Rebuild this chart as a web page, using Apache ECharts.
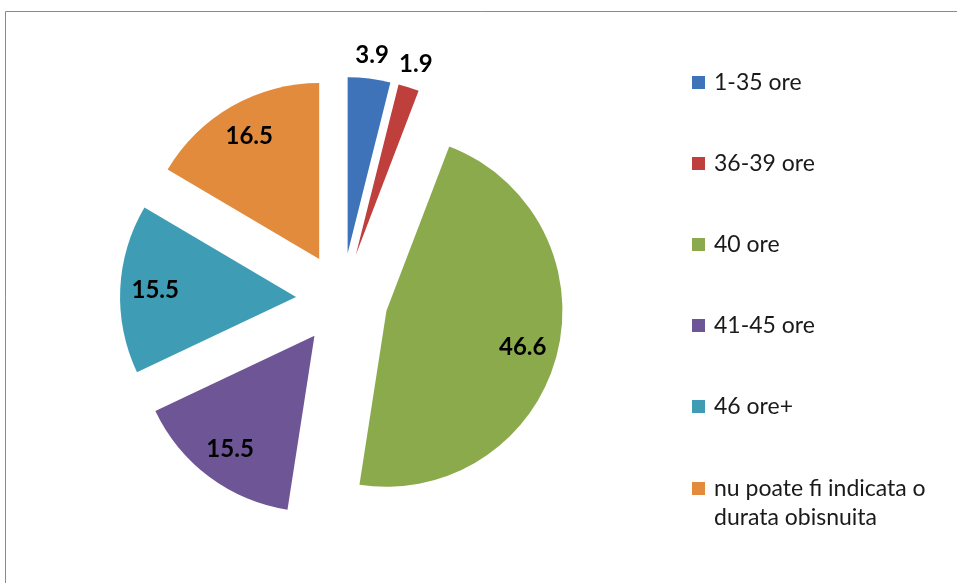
<!DOCTYPE html>
<html>
<head>
<meta charset="utf-8">
<script src="https://cdn.jsdelivr.net/npm/echarts@6/dist/echarts.min.js"></script>
<style>
  html, body { margin: 0; padding: 0; background: #fff; }
  #chart { width: 957px; height: 583px; }
</style>
</head>
<body>
<div id="chart"></div>
<script>
// Usual weekly working time (share of employed, %)
const categories = ['1-35 ore', '36-39 ore', '40 ore', '41-45 ore', '46 ore+', 'nu poate fi indicata o durata obisnuita'];
const values = [3.9, 1.9, 46.6, 15.5, 15.5, 16.5];
const colors = ['#3E73B9', '#BE3F3C', '#8BAA4C', '#6E5596', '#3E9DB5', '#E38B3D'];
// slices whose value is printed just outside the pie rim
const outerLabelIdx = [0, 1];

const CENTER = [342, 299];
const R = 176;
const EXPLODE = 46;
const labelFont = { fontFamily: 'Lato', fontWeight: 'bold', fontSize: 24, color: '#000' };
const LEGEND_FONT = 23;
const LEGEND_LINE = 29;
const LEGEND_WRAP = 236;

function sliceData(labelFor) {
  return categories.map((name, i) => ({
    name: name,
    value: values[i],
    selected: true,
    itemStyle: { color: colors[i] },
    label: { show: labelFor(i) }
  }));
}

function labelData(labelFor) {
  return sliceData(labelFor).map(d => Object.assign(d, { itemStyle: { color: 'transparent' } }));
}

// greedy word wrap using the legend font
function wrapWords(text, maxWidth) {
  const ctx = document.createElement('canvas').getContext('2d');
  ctx.font = LEGEND_FONT + 'px Lato';
  const lines = [];
  let cur = '';
  text.split(' ').forEach(w => {
    const trial = cur ? cur + ' ' + w : w;
    if (cur && ctx.measureText(trial).width > maxWidth) {
      lines.push(cur);
      cur = w;
    } else {
      cur = trial;
    }
  });
  if (cur) lines.push(cur);
  return lines;
}

const baseSeries = {
  type: 'pie',
  center: CENTER,
  startAngle: 90,
  clockwise: true,
  selectedMode: 'multiple',
  selectedOffset: EXPLODE,
  avoidLabelOverlap: false,
  animation: false,
  silent: true,
  emphasis: { disabled: true },
  labelLine: { show: false }
};

const legendText = {
  fontFamily: 'Lato',
  fontSize: LEGEND_FONT,
  lineHeight: LEGEND_LINE,
  color: '#1a1a1a',
  padding: [0, 0, 0, 4]
};

const baseLegend = {
  orient: 'vertical',
  left: 687,
  itemWidth: 13,
  itemHeight: 13,
  icon: 'rect',
  selectedMode: false
};

const singleLine = categories.slice(0, categories.length - 1);
const wrapped = categories.slice(categories.length - 1);

const chart = echarts.init(document.getElementById('chart'), null, { renderer: 'canvas' });

chart.setOption({
  backgroundColor: '#fff',
  color: colors,
  graphic: [{
    type: 'rect',
    shape: { x: 5.5, y: 11.5, width: 1000, height: 1000 },
    style: { fill: 'none', stroke: '#8a8a8a', lineWidth: 1 },
    silent: true
  }],
  legend: [
    Object.assign({}, baseLegend, {
      top: 63,
      itemGap: 52,
      data: singleLine,
      textStyle: legendText
    }),
    // two-line entry: an empty spacer line above keeps the marker beside the first line
    Object.assign({}, baseLegend, {
      top: 440,
      data: wrapped,
      formatter: name => '{sp| }\n' + wrapWords(name, LEGEND_WRAP).map(l => '{t|' + l + '}').join('\n'),
      textStyle: Object.assign({}, legendText, {
        rich: {
          sp: { fontSize: LEGEND_FONT, lineHeight: LEGEND_LINE, height: LEGEND_LINE },
          t: { fontFamily: 'Lato', fontSize: LEGEND_FONT, lineHeight: LEGEND_LINE, color: '#1a1a1a' }
        }
      })
    })
  ],
  series: [
    // coloured slices
    Object.assign({}, baseSeries, {
      name: 'slices',
      radius: [0, R],
      label: { show: false },
      select: { itemStyle: { borderWidth: 0 } },
      data: sliceData(() => false)
    }),
    // value labels placed inside the slices
    Object.assign({}, baseSeries, {
      name: 'inner labels',
      radius: [R - 76, R],
      itemStyle: { color: 'transparent' },
      select: { itemStyle: { color: 'transparent', borderWidth: 0 } },
      label: Object.assign({ position: 'inside', formatter: '{c}' }, labelFont),
      data: labelData(i => outerLabelIdx.indexOf(i) < 0)
    }),
    // value labels for the thin slices, just beyond the rim
    Object.assign({}, baseSeries, {
      name: 'outer labels',
      radius: [R + 10, R + 32],
      itemStyle: { color: 'transparent' },
      select: { itemStyle: { color: 'transparent', borderWidth: 0 } },
      label: Object.assign({ position: 'inside', formatter: '{c}' }, labelFont),
      data: labelData(i => outerLabelIdx.indexOf(i) >= 0)
    })
  ]
});
</script>
</body>
</html>
